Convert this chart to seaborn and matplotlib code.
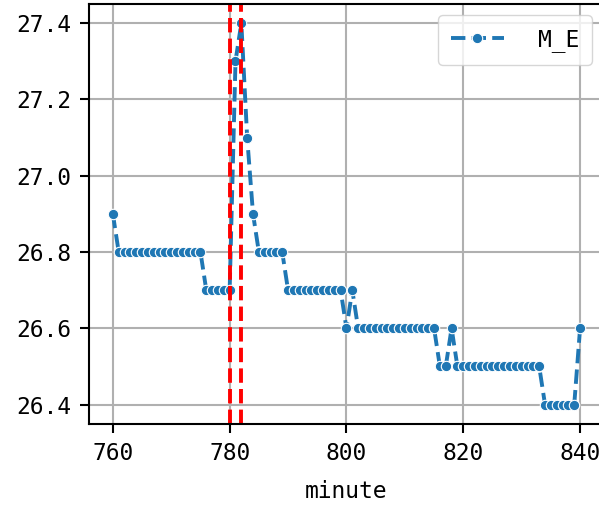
import numpy as np
import matplotlib
matplotlib.use('Agg')
import matplotlib.pyplot as plt
import seaborn as sns

# 분 단위 시간과 M_E 값
minutes = list(range(760, 841))
m_e = ([26.9] + [26.8] * 15 + [26.7] * 5 + [27.3, 27.4, 27.1, 26.9]
       + [26.8] * 5 + [26.7] * 10 + [26.6, 26.7] + [26.6] * 14
       + [26.5] * 2 + [26.6] + [26.5] * 15 + [26.4] * 6 + [26.6])
event_minutes = [780, 782]

plt.rcParams['font.family'] = ['DejaVu Sans Mono', 'Noto Sans CJK SC']
plt.rcParams['axes.unicode_minus'] = False

fig = plt.figure(figsize=(5.99, 5.09), dpi=100)
ax = fig.add_axes([0.1494, 0.1676, 0.858, 0.8245])

sns.lineplot(x=minutes, y=m_e, marker='.', linestyle='--', linewidth=2.8,
             markersize=15, markeredgewidth=0.8, color='#1f77b4',
             label='M_E', ax=ax)

# 이벤트 구간 표시
for m in event_minutes:
    ax.axvline(m, color='red', linestyle='--', linewidth=2.8)

ax.grid(True, color='#b0b0b0', linewidth=1.5)
ax.set_xlabel('minute', fontsize=16.5, labelpad=11)
ax.tick_params(labelsize=16.5, width=1.5, length=6.5, pad=6.5)
for s in ax.spines.values():
    s.set_linewidth(1.5)
ax.legend(loc='upper right', fontsize=16.5, handlelength=2.3, handletextpad=1.5,
          borderpad=0.55, borderaxespad=0.5)

fig.savefig('out.png', dpi=100)
